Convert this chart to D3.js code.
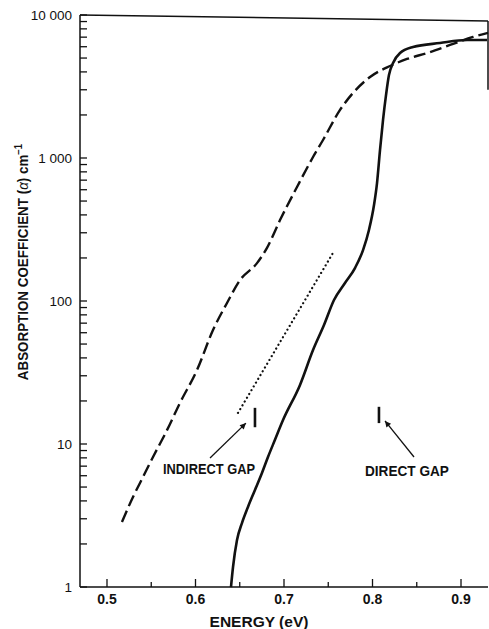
<!DOCTYPE html>
<html>
<head>
<meta charset="utf-8">
<script src="https://cdn.jsdelivr.net/npm/d3@7/dist/d3.min.js"></script>
<style>
  html, body { margin: 0; padding: 0; background: #fff; }
  svg { display: block; }
  text { font-family: "Liberation Sans", Arial, sans-serif; fill: #111; }
</style>
</head>
<body>
<svg id="chart" width="489" height="629"></svg>
<script>
// ---------- data ----------
const directEnergy = [0.6401, 0.6424, 0.6469, 0.6525, 0.6593, 0.6672, 0.6751, 0.6819, 0.6898, 0.6989,
  0.7181, 0.7328, 0.7452, 0.7565, 0.7689, 0.7802, 0.7893, 0.7960, 0.8017, 0.8051, 0.8085, 0.8119,
  0.8153, 0.8186, 0.8232, 0.8311, 0.8458, 0.8763, 0.9068, 0.9294];
const directAlpha = [1.0, 1.38, 2.13, 2.80, 3.63, 4.77, 6.27, 8.11, 10.7, 14.7,
  25.9, 45.4, 67.9, 101.6, 133.6, 170, 227, 314, 469, 668, 1138, 1845,
  2760, 3800, 4620, 5420, 5970, 6370, 6680, 6680];

const dashedEnergy = [0.5169, 0.5294, 0.5407, 0.5520, 0.5678, 0.5825, 0.6017, 0.6198, 0.6356, 0.6503,
  0.6695, 0.6808, 0.6955, 0.7147, 0.7328, 0.7441, 0.7633, 0.7780, 0.7972, 0.8198, 0.8390, 0.8616,
  0.8876, 0.9136, 0.9305];
const dashedAlpha = [2.85, 4.26, 5.88, 8.11, 12.5, 19.4, 32.9, 62.7, 96.8, 140,
  184, 235, 368, 627, 1016, 1336, 2168, 2850, 3685, 4400, 4925, 5420,
  6170, 7020, 7490];

const dottedEnergy = [0.648, 0.7554];
const dottedAlpha = [16.5, 217];

const gapLabels = ["INDIRECT GAP", "DIRECT GAP"];
const gapEnergy = [0.6672, 0.8073];
const gapAlphaLow = [13.1, 14.0];
const gapAlphaHigh = [17.9, 18.2];
const arrowFromEnergy = [0.6164, 0.8469];
const arrowFromAlpha = [7.98, 8.11];
const arrowToEnergy = [0.657, 0.8141];
const arrowToAlpha = [14.0, 14.5];
const labelEnergy = [0.5633, 0.7915];
const labelAlpha = [6.17, 6.0];
const labelWidth = [92, 84];

const xMajorTicks = [0.5, 0.6, 0.7, 0.8, 0.9];
const xMinorTicks = [0.55, 0.65, 0.75, 0.85];
const xTickLabels = ["0.5", "0.6", "0.7", "0.8", "0.9"];
const yMajorTicks = [1, 10, 100, 1000, 10000];
const yTickLabels = ["1", "10", "100", "1 000", "10 000"];
const xDomain = [0.4695, 0.9305];
const yDomain = [1, 10000];

// ---------- scales ----------
const svg = d3.select("#chart");
const x = d3.scaleLinear().domain(xDomain).range([80, 488]);
const y = d3.scaleLog().domain(yDomain).range([587, 15]);
const ink = "#111";

function fitX(sel, target) {
  const w = sel.node().getComputedTextLength();
  return target / w;
}

// ---------- frame ----------
svg.append("line").attr("x1", x(xDomain[0])).attr("x2", x(xDomain[0]))
  .attr("y1", y(yDomain[1])).attr("y2", y(yDomain[0]))
  .attr("stroke", ink).attr("stroke-width", 1.5);
svg.append("line").attr("x1", x(xDomain[0])).attr("x2", x(xDomain[1]))
  .attr("y1", y(yDomain[0])).attr("y2", y(yDomain[0]))
  .attr("stroke", ink).attr("stroke-width", 1.5);
svg.append("line").attr("x1", x(xDomain[0])).attr("x2", x(xDomain[1]))
  .attr("y1", y(yDomain[1])).attr("y2", y(yDomain[1]) + 6)
  .attr("stroke", ink).attr("stroke-width", 1.5);
svg.append("line").attr("x1", x(xDomain[1])).attr("x2", x(xDomain[1]))
  .attr("y1", y(yDomain[1]) + 6).attr("y2", y(3000))
  .attr("stroke", ink).attr("stroke-width", 1.5);

// ---------- y ticks (inward) ----------
const yMinor = [];
for (let d = 1; d < 10000; d *= 10) for (let k = 2; k <= 9; k++) yMinor.push(d * k);
svg.append("g").selectAll("line").data(yMinor.concat(yMajorTicks)).join("line")
  .attr("x1", x(xDomain[0])).attr("x2", x(xDomain[0]) + 7)
  .attr("y1", d => y(d)).attr("y2", d => y(d))
  .attr("stroke", ink).attr("stroke-width", 1.3);
svg.append("g").selectAll("text").data(yMajorTicks).join("text")
  .attr("x", 72).attr("y", d => y(d)).attr("dy", "0.36em")
  .attr("text-anchor", "end").attr("font-size", 13.5)
  .text((d, i) => yTickLabels[i]);

// ---------- x ticks (inward) ----------
svg.append("g").selectAll("line").data(xMajorTicks).join("line")
  .attr("x1", d => x(d)).attr("x2", d => x(d))
  .attr("y1", y(1)).attr("y2", y(1) - 8)
  .attr("stroke", ink).attr("stroke-width", 1.3);
svg.append("g").selectAll("line").data(xMinorTicks).join("line")
  .attr("x1", d => x(d)).attr("x2", d => x(d))
  .attr("y1", y(1)).attr("y2", y(1) - 5)
  .attr("stroke", ink).attr("stroke-width", 1.3);
svg.append("g").selectAll("text").data(xMajorTicks).join("text")
  .attr("x", d => x(d)).attr("y", 604)
  .attr("text-anchor", "middle").attr("font-size", 14).attr("font-weight", "bold")
  .text((d, i) => xTickLabels[i]);

// ---------- axis titles ----------
const xt = svg.append("text").attr("text-anchor", "middle").attr("font-size", 14)
  .attr("font-weight", "bold").text("ENERGY  (eV)");
const sx = fitX(xt, 99);
xt.attr("transform", `translate(259,627) scale(${sx},1)`);

const yt = svg.append("text").attr("text-anchor", "middle").attr("font-size", 14)
  .attr("font-weight", "bold");
yt.append("tspan").text("ABSORPTION  COEFFICIENT (");
yt.append("tspan").attr("font-style", "italic").attr("font-weight", "normal").text("α");
yt.append("tspan").text(") cm");
yt.append("tspan").attr("dy", -6).attr("font-size", 10).text("−1");
const syw = yt.node().getBBox().width;
yt.attr("transform", `translate(28,262) rotate(-90) scale(${237 / syw},1)`);

// ---------- curves ----------
const line = d3.line().x(d => x(d[0])).y(d => y(d[1])).curve(d3.curveMonotoneX);

svg.append("path").datum(dashedEnergy.map((e, i) => [e, dashedAlpha[i]]))
  .attr("d", line).attr("fill", "none").attr("stroke", ink)
  .attr("stroke-width", 2.4).attr("stroke-dasharray", "12,5");

svg.append("path").datum(directEnergy.map((e, i) => [e, directAlpha[i]]))
  .attr("d", line).attr("fill", "none").attr("stroke", ink)
  .attr("stroke-width", 2.6);

svg.append("path").datum(dottedEnergy.map((e, i) => [e, dottedAlpha[i]]))
  .attr("d", d3.line().x(d => x(d[0])).y(d => y(d[1])))
  .attr("fill", "none").attr("stroke", ink)
  .attr("stroke-width", 2.2).attr("stroke-linecap", "round").attr("stroke-dasharray", "0.1,4.3");

// ---------- gap markers, arrows, labels ----------
svg.append("defs").append("marker").attr("id", "ah")
  .attr("viewBox", "0 0 10 10").attr("refX", 10).attr("refY", 5)
  .attr("markerWidth", 8).attr("markerHeight", 6).attr("markerUnits", "userSpaceOnUse")
  .attr("orient", "auto")
  .append("path").attr("d", "M0,0 L10,5 L0,10 Z").attr("fill", ink);

gapLabels.forEach((lab, i) => {
  svg.append("line").attr("x1", x(gapEnergy[i])).attr("x2", x(gapEnergy[i]))
    .attr("y1", y(gapAlphaLow[i])).attr("y2", y(gapAlphaHigh[i]))
    .attr("stroke", ink).attr("stroke-width", 2.6);
  svg.append("line")
    .attr("x1", x(arrowFromEnergy[i])).attr("y1", y(arrowFromAlpha[i]))
    .attr("x2", x(arrowToEnergy[i])).attr("y2", y(arrowToAlpha[i]))
    .attr("stroke", ink).attr("stroke-width", 1.3).attr("marker-end", "url(#ah)");
  const t = svg.append("text").attr("font-size", 14).attr("font-weight", "bold").text(lab);
  const s = fitX(t, labelWidth[i]);
  t.attr("transform", `translate(${x(labelEnergy[i])},${y(labelAlpha[i])}) scale(${s},1)`);
});
</script>
</body>
</html>
